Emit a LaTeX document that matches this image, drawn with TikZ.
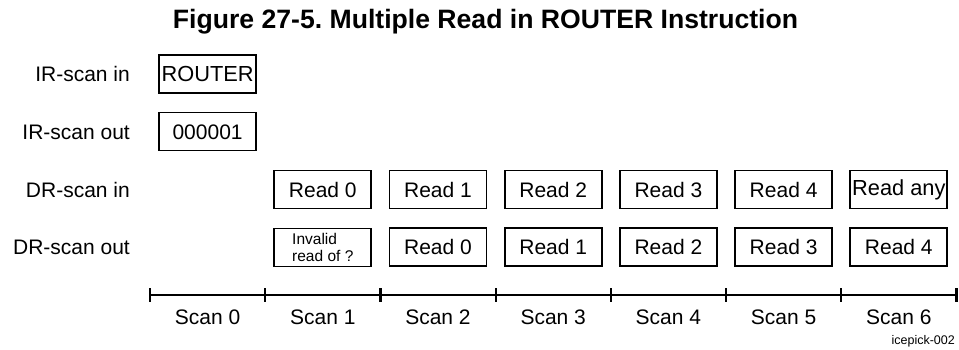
\documentclass[tikz,border=0pt]{standalone}
\usepackage{fontspec}
\setmainfont{Liberation Sans}
\frenchspacing
\begin{document}
\begin{tikzpicture}[x=1pt,y=-1pt,
  box/.style={draw, line width=1.9pt, minimum width=97pt, minimum height=38pt,
    inner sep=0pt, font=\fontsize{21}{25}\selectfont, text height=15pt, text depth=0pt},
  fillbox/.style={box, font=\fontsize{21.8}{26}\selectfont},
  rowlabel/.style={anchor=base east, inner sep=0pt, font=\fontsize{21}{25}\selectfont},
  scanlabel/.style={anchor=base, inner sep=0pt, font=\fontsize{21}{25}\selectfont},
  smalltext/.style={font=\fontsize{15.5}{17.7}\selectfont, align=left, text height=, text depth=}]
\useasboundingbox (0,0) rectangle (959,349);
% title
\node[anchor=base, inner sep=0pt, font=\bfseries\fontsize{26.6}{30}\selectfont] (title) at (485.5,28)
  {Figure 27-5. Multiple Read in ROUTER Instruction};
% row labels
\node[rowlabel] (lirin)  at (130,81.5) {IR-scan in};
\node[rowlabel] (lirout) at (130,139) {IR-scan out};
\node[rowlabel] (ldrin)  at (130,197) {DR-scan in};
\node[rowlabel] (ldrout) at (130,254) {DR-scan out};
% IR boxes
\node[fillbox] (router) at (207.6,74) {ROUTER};
\node[box] (irout) at (207.6,131.5) {000001};
% DR-scan in boxes
\node[box] (in1) at (322.8,189.5) {Read 0};
\node[box] (in2) at (438.0,189.5) {Read 1};
\node[box] (in3) at (553.2,189.5) {Read 2};
\node[box] (in4) at (668.4,189.5) {Read 3};
\node[box] (in5) at (783.6,189.5) {Read 4};
\node[fillbox, text depth=3pt] (in6) at (898.8,189.5) {Read any};
% DR-scan out boxes
\node[box, smalltext] (out1) at (322.8,247.5) {Invalid\\read of ?};
\node[box] (out2) at (438.0,247) {Read 0};
\node[box] (out3) at (553.2,247) {Read 1};
\node[box] (out4) at (668.4,247) {Read 2};
\node[box] (out5) at (783.6,247) {Read 3};
\node[box] (out6) at (898.8,247) {Read 4};
% timeline
\foreach \k in {0,...,7} {
  \coordinate (t\k) at ({150+115.2*\k},295);
  \draw[line width=2.2pt] ({150+115.2*\k},288) -- ({150+115.2*\k},302);
}
\draw[line width=1.2pt] (t0) -- (t7);
\foreach \k in {0,...,6} {
  \node[scanlabel] (s\k) at ({207.6+115.2*\k},324) {Scan \k};
}
\node[anchor=base east, inner sep=0pt, font=\fontsize{12.5}{15}\selectfont] (tag) at (955,344) {icepick-002};
\end{tikzpicture}
\end{document}
